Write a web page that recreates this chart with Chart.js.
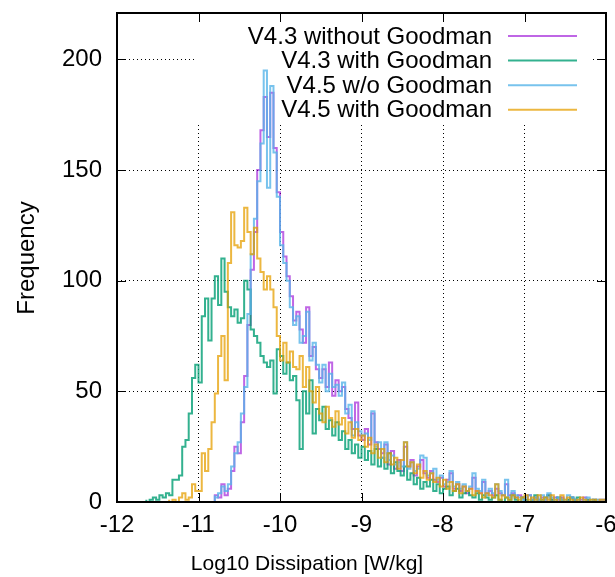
<!DOCTYPE html>
<html>
<head>
<meta charset="utf-8">
<script src="https://cdn.jsdelivr.net/npm/chart.js@4.4.1/dist/chart.umd.min.js"></script>
<style>
  body { margin: 0; background: #fff; }
  #wrap { width: 615px; height: 577px; }
</style>
</head>
<body>
<div id="wrap"><canvas id="myChart" width="615" height="577"></canvas></div>
<script>
// histogram bins, log10 dissipation, width 0.04
const binWidth = 0.04;
const seriesNames = ["V4.3 without Goodman", "V4.3 with Goodman", "V4.5 w/o Goodman", "V4.5 with Goodman"];
const seriesColors = ["rgba(148,0,211,0.6)", "rgba(0,158,115,0.8)", "rgba(86,180,233,0.8)", "rgba(230,159,0,0.75)"];
const firstBin = [-10.80, -11.64, -10.80, -11.36];

const v43NoGoodman = [
  2, 3, 2, 8, 3, 6, 14, 25, 22, 36, 57, 80, 105, 122, 150, 168, 183, 165, 185, 160,
  140, 122, 111, 102, 93, 82, 86, 78, 72, 88, 66, 70, 60, 56, 60, 52, 63, 48, 55, 50,
  52, 42, 38, 33, 45, 30, 28, 33, 26, 40, 27, 24, 22, 26, 17, 23, 15, 19, 14, 25,
  16, 19, 12, 16, 19, 13, 11, 14, 10, 9, 11, 7, 10, 13, 6, 8, 5, 7, 4, 6,
  11, 5, 4, 9, 4, 5, 3, 6, 4, 3, 8, 3, 4, 2, 3, 2, 1, 3, 1, 2,
  1, 2, 1, 3, 1, 2, 1, 2, 0, 1, 2, 1, 0, 1, 2, 1, 0, 1, 0, 1
];
const v43Goodman = [
  1, 0, 1, 2, 1, 3, 2, 4, 3, 10, 10, 12, 25, 28, 40, 56, 62, 54, 84, 92,
  73, 92, 102, 89, 110, 95, 88, 84, 87, 81, 83, 100, 96, 78, 75, 72, 66, 63, 61, 64,
  49, 69, 66, 58, 63, 55, 57, 46, 24, 50, 40, 55, 31, 42, 37, 43, 33, 37, 30, 36,
  28, 32, 24, 28, 22, 26, 20, 25, 19, 23, 17, 24, 16, 20, 15, 22, 13, 18, 14, 12,
  16, 10, 13, 8, 11, 6, 9, 7, 10, 5, 8, 4, 6, 7, 3, 5, 6, 2, 4, 5,
  3, 2, 4, 1, 3, 2, 1, 2, 3, 1, 0, 2, 1, 3, 1, 0, 2, 1, 0, 1,
  3, 0, 1, 2, 3, 1, 0, 2, 1, 0, 1, 2, 1, 2, 0, 0, 1, 0, 1, 0, 0
];
const v45NoGoodman = [
  3, 2, 4, 7, 5, 8, 16, 22, 27, 40, 52, 85, 112, 128, 145, 162, 195, 142, 188, 158,
  138, 116, 108, 100, 88, 80, 84, 72, 75, 86, 64, 72, 62, 54, 62, 50, 58, 52, 53, 48,
  54, 40, 44, 30, 36, 32, 30, 31, 28, 41, 25, 27, 20, 27, 19, 21, 17, 18, 16, 27,
  15, 18, 14, 15, 21, 20, 12, 13, 15, 10, 12, 8, 9, 14, 7, 9, 6, 8, 5, 7,
  13, 6, 5, 10, 3, 6, 4, 8, 5, 3, 10, 2, 5, 3, 2, 1, 2, 3, 1, 2,
  1, 3, 1, 4, 2, 1, 2, 1, 1, 3, 2, 1, 1, 0, 1, 2, 1, 0, 1, 1
];
const v45Goodman = [
  1, 0, 1, 0, 2, 4, 1, 2, 8, 5, 5, 22, 14, 24, 36, 49, 66, 75, 55, 108,
  131, 116, 115, 118, 133, 122, 112, 124, 110, 104, 96, 102, 96, 88, 75, 64, 72, 63, 68, 61,
  60, 66, 52, 61, 50, 45, 52, 40, 36, 43, 38, 34, 41, 35, 38, 31, 36, 29, 33, 28,
  30, 25, 29, 22, 26, 20, 24, 18, 22, 17, 20, 15, 19, 27, 16, 18, 13, 17, 11, 14,
  10, 13, 9, 11, 7, 10, 6, 9, 5, 8, 4, 7, 5, 6, 3, 5, 4, 2, 4, 3,
  2, 8, 1, 3, 2, 1, 3, 2, 1, 2, 3, 1, 2, 1, 3, 1, 2, 1, 3, 1,
  0, 3, 1, 2, 1, 0, 1, 2, 1, 0, 1, 1, 0, 1
];
const seriesCounts = [v43NoGoodman, v43Goodman, v45NoGoodman, v45Goodman];

const xTicks = [-12, -11, -10, -9, -8, -7, -6];
const yTicks = [0, 50, 100, 150, 200];
const xTitle = "Log10 Dissipation [W/kg]";
const yTitle = "Frequency";

const FONT = "'Liberation Sans', Arial, sans-serif";

// bin edges -> points for a stepped line
function steps(start, counts) {
  const pts = [{x: start, y: 0}];
  counts.forEach((c, i) => pts.push({x: start + i * binWidth, y: c}));
  pts.push({x: start + counts.length * binWidth, y: counts[counts.length - 1]});
  return pts;
}

const drawOrder = [3, 2, 1, 0];
const datasets = seriesNames.map((name, i) => ({
  label: name,
  data: steps(firstBin[i], seriesCounts[i]),
  borderColor: seriesColors[i],
  borderWidth: 2,
  stepped: 'after',
  pointRadius: 0,
  fill: false,
  order: drawOrder[i]
}));

// no extra room for half labels, the layout padding sets the frame
function noPad(s) {
  s.paddingTop = 0; s.paddingBottom = 0; s.paddingLeft = 0; s.paddingRight = 0;
}

// key box, frame, inward tics and axis titles
const gnuStyle = {
  id: 'gnuStyle',
  beforeDatasetsDraw(chart) {
    const ctx = chart.ctx;
    ctx.save();
    ctx.fillStyle = '#fff';
    ctx.fillRect(197, 14, 393, 108);
    ctx.restore();
  },
  afterDatasetsDraw(chart) {
    const ctx = chart.ctx;
    const a = chart.chartArea;
    const xs = chart.scales.x, ys = chart.scales.y;
    ctx.save();

    // key
    ctx.font = '24px ' + FONT;
    ctx.fillStyle = '#000';
    ctx.textAlign = 'right';
    ctx.textBaseline = 'middle';
    seriesNames.forEach((name, i) => {
      const y = 36 + i * 24.6;
      ctx.fillText(name, 492, y + 1);
      ctx.strokeStyle = seriesColors[i];
      ctx.lineWidth = 2;
      ctx.beginPath();
      ctx.moveTo(508, y);
      ctx.lineTo(577, y);
      ctx.stroke();
    });

    // tics
    ctx.strokeStyle = '#000';
    ctx.lineWidth = 1;
    ctx.beginPath();
    xTicks.forEach(v => {
      const x = Math.round(xs.getPixelForValue(v)) + 0.5;
      ctx.moveTo(x, a.bottom); ctx.lineTo(x, a.bottom - 9);
      ctx.moveTo(x, a.top); ctx.lineTo(x, a.top + 9);
    });
    yTicks.forEach(v => {
      const y = Math.round(ys.getPixelForValue(v)) + 0.5;
      ctx.moveTo(a.left, y); ctx.lineTo(a.left + 9, y);
      ctx.moveTo(a.right, y); ctx.lineTo(a.right - 9, y);
    });
    ctx.stroke();

    // border
    ctx.lineWidth = 2;
    ctx.strokeRect(a.left, a.top, a.right - a.left, a.bottom - a.top);

    // axis titles
    ctx.textAlign = 'center';
    ctx.textBaseline = 'alphabetic';
    ctx.font = '21px ' + FONT;
    ctx.fillText(xTitle, 307, 570);
    ctx.font = '24px ' + FONT;
    ctx.translate(34, 258);
    ctx.rotate(-Math.PI / 2);
    ctx.fillText(yTitle, 0, 0);
    ctx.restore();
  }
};

const config = {
  type: 'line',
  data: { datasets: datasets },
  options: {
    responsive: false,
    animation: false,
    devicePixelRatio: 1,
    layout: { padding: { top: 13, right: 9, left: 0, bottom: 0 } },
    plugins: { legend: { display: false }, tooltip: { enabled: false } },
    scales: {
      x: {
        type: 'linear',
        min: -12,
        max: -6,
        afterBuildTicks: s => { s.ticks = xTicks.map(v => ({ value: v })); },
        afterFit: s => { s.height = 75; noPad(s); },
        ticks: { color: '#000', font: { family: FONT, size: 24 }, padding: 9, maxRotation: 0 },
        grid: { color: '#000', lineWidth: 1, drawTicks: false },
        border: { display: false, dash: [1, 3] }
      },
      y: {
        min: 0,
        max: 221,
        afterBuildTicks: s => { s.ticks = yTicks.map(v => ({ value: v })); },
        afterFit: s => { s.width = 117; noPad(s); },
        ticks: { color: '#000', font: { family: FONT, size: 24 }, padding: 15 },
        grid: { color: '#000', lineWidth: 1, drawTicks: false },
        border: { display: false, dash: [1, 3] }
      }
    }
  },
  plugins: [gnuStyle]
};

const myChart = new Chart(document.getElementById('myChart'), config);
</script>
</body>
</html>
